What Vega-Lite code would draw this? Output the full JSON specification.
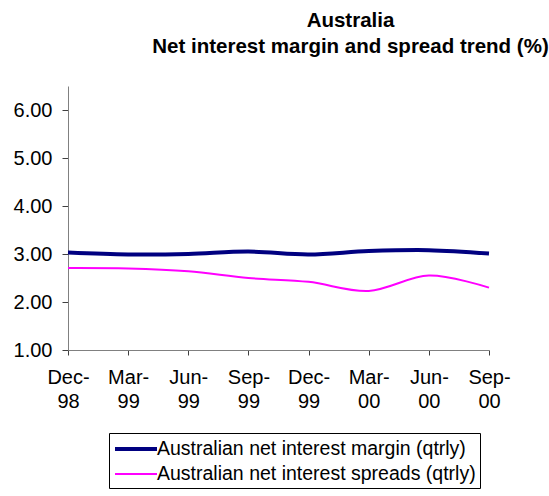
{
  "$schema": "https://vega.github.io/schema/vega-lite/v6.json",
  "autosize": "none",
  "width": 421,
  "height": 264,
  "padding": {"left": 68, "top": 86, "right": 60, "bottom": 146},
  "background": "white",
  "config": {"view": {"stroke": null}, "font": "Liberation Sans"},
  "title": {
    "text": ["Australia", "Net interest margin and spread trend (%)"],
    "font": "Liberation Sans",
    "fontSize": 20.5,
    "fontWeight": "bold",
    "color": "black",
    "anchor": "middle",
    "align": "center",
    "dx": 72,
    "offset": 29,
    "lineHeight": 26
  },
  "data": {
    "values": [
      {"q": "Dec-98", "series": "Australian net interest margin (qtrly)", "v": 3.03},
      {"q": "Mar-99", "series": "Australian net interest margin (qtrly)", "v": 2.99},
      {"q": "Jun-99", "series": "Australian net interest margin (qtrly)", "v": 3.00},
      {"q": "Sep-99", "series": "Australian net interest margin (qtrly)", "v": 3.05},
      {"q": "Dec-99", "series": "Australian net interest margin (qtrly)", "v": 2.99},
      {"q": "Mar-00", "series": "Australian net interest margin (qtrly)", "v": 3.06},
      {"q": "Jun-00", "series": "Australian net interest margin (qtrly)", "v": 3.08},
      {"q": "Sep-00", "series": "Australian net interest margin (qtrly)", "v": 3.01},
      {"q": "Dec-98", "series": "Australian net interest spreads (qtrly)", "v": 2.71},
      {"q": "Mar-99", "series": "Australian net interest spreads (qtrly)", "v": 2.70},
      {"q": "Jun-99", "series": "Australian net interest spreads (qtrly)", "v": 2.64},
      {"q": "Sep-99", "series": "Australian net interest spreads (qtrly)", "v": 2.50},
      {"q": "Dec-99", "series": "Australian net interest spreads (qtrly)", "v": 2.42},
      {"q": "Mar-00", "series": "Australian net interest spreads (qtrly)", "v": 2.23},
      {"q": "Jun-00", "series": "Australian net interest spreads (qtrly)", "v": 2.55},
      {"q": "Sep-00", "series": "Australian net interest spreads (qtrly)", "v": 2.30}
    ]
  },
  "mark": {"type": "line", "interpolate": "cardinal"},
  "encoding": {
    "x": {
      "field": "q",
      "type": "ordinal",
      "sort": null,
      "scale": {"type": "point", "padding": 0},
      "axis": {
        "title": null,
        "labelAngle": 0,
        "labelExpr": "[slice(datum.label,0,4), slice(datum.label,4)]",
        "labelFontSize": 20,
        "labelColor": "black",
        "labelLineHeight": 24,
        "labelPadding": 12,
        "domainColor": "#808080",
        "tickColor": "#404040",
        "tickSize": 5,
        "grid": false
      }
    },
    "y": {
      "field": "v",
      "type": "quantitative",
      "scale": {"domain": [1, 6.5], "nice": false, "zero": false},
      "axis": {
        "title": null,
        "values": [1, 2, 3, 4, 5, 6],
        "format": ".2f",
        "labelFontSize": 20,
        "labelColor": "black",
        "labelPadding": 10,
        "domainColor": "#808080",
        "tickColor": "#404040",
        "tickSize": 6,
        "grid": false
      }
    },
    "color": {
      "field": "series",
      "type": "nominal",
      "scale": {"range": ["#000080", "#FF00FF"]},
      "legend": {
        "title": null,
        "orient": "none",
        "legendX": 41,
        "legendY": 347,
        "direction": "vertical",
        "symbolType": "M-2.1,0H2.1",
        "symbolSize": 400,
        "symbolOffset": 11,
        "labelFontSize": 19.5,
        "labelColor": "black",
        "labelOffset": 9,
        "labelLimit": 400,
        "padding": 4,
        "rowPadding": 4,
        "strokeColor": "black",
        "fillColor": "white"
      }
    },
    "strokeWidth": {
      "field": "series",
      "type": "nominal",
      "scale": {"range": [4, 2]},
      "legend": null
    }
  }
}
